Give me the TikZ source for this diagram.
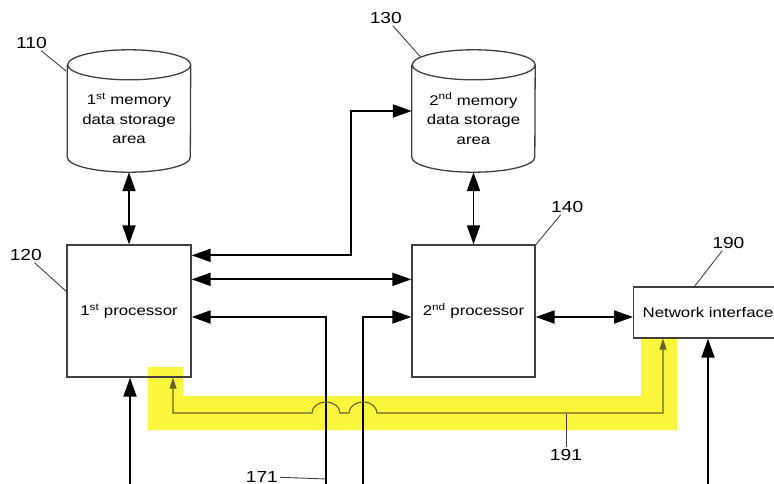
\documentclass[tikz,border=0pt]{standalone}
\usepackage{fontspec}
\newfontfamily\figfont[FakeStretch=1.2]{Liberation Sans}
\usetikzlibrary{arrows.meta,calc}

\definecolor{marker}{RGB}{250,246,60}
\definecolor{markline}{RGB}{100,100,40}

\tikzset{
  box/.style={draw=black!75, line width=1.3pt, minimum width=124pt, minimum height=132pt,
    font=\figfont\fontsize{14}{19.5}\selectfont},
  drum/.style={minimum width=123pt, minimum height=122pt, inner sep=0pt,
    align=center, font=\figfont\fontsize{14}{19.5}\selectfont},
  link/.style={line width=1.8pt, {Triangle[length=19pt,width=13pt]}-{Triangle[length=19pt,width=13pt]}},
  feed/.style={line width=1.8pt, -{Triangle[length=19pt,width=13pt]}},
  bus/.style={markline, line width=1.1pt, {Triangle[length=11pt,width=7pt]}-{Triangle[length=11pt,width=7pt]}},
  num/.style={font=\figfont\fontsize{16}{19}\selectfont, inner sep=2pt},
  every pin/.style={num},
  every pin edge/.style={draw=black!75, line width=0.9pt},
}

% outline of a storage drum round a drum node
\newcommand{\drumoutline}[1]{%
  \draw[draw=black!75, line width=1.3pt] ([yshift=-15pt]#1.north west) -- ([yshift=15pt]#1.south west)
    arc[start angle=180, end angle=360, x radius=61.5pt, y radius=15pt]
    -- ([yshift=-15pt]#1.north east)
    arc[start angle=0, end angle=360, x radius=61.5pt, y radius=15pt];}

\begin{document}
\begin{tikzpicture}[x=1pt,y=-1pt]
  \useasboundingbox (0,0) rectangle (774,484);

  % Highlighted path
  \fill[marker] (148,367) -- (148,430) -- (677,430) -- (677,337) -- (641,337)
    -- (641,396) -- (183,396) -- (183,367) -- cycle;

  % Memories
  \node[drum] (mem1) at (129,111) {};
  \node[drum] (mem1txt) at (129,118.5) {1\textsuperscript{st} memory\\data storage\\area};
  \drumoutline{mem1}
  \node[drum] (mem2) at (473.5,111) {};
  \node[drum] (mem2txt) at (473.5,118.5) {2\textsuperscript{nd} memory\\data storage\\area};
  \drumoutline{mem2}

  % Processors and interface
  \node[box] (proc1) at (129,311) {1\textsuperscript{st} processor};
  \node[box, minimum width=123pt] (proc2) at (473.5,311) {2\textsuperscript{nd} processor};
  \node[box, minimum height=51pt, minimum width=0pt, text width=152pt, align=left,
    inner sep=9pt, anchor=west] (net) at (633,312.5) {Network interface};

  % Free ends at the bottom
  \coordinate (in120) at (130,490);
  \coordinate (in171) at (326,490);
  \coordinate (in172) at (363,490);
  \coordinate (in190) at (708,490);

  % Connectors
  \draw[link] (mem1.south) -- (proc1.north);
  \draw[link] (mem2.south) -- (proc2.north);
  \draw[link] ([yshift=-11pt]proc1.north east) -| ($(mem2.west)+(-61,0)$) -- (mem2.west);
  \draw[link] ([yshift=-35pt]proc1.north east) -- ([yshift=-35pt]proc2.north west);
  \draw[feed] (in171) |- ([yshift=-6pt]proc1.east);
  \draw[feed] (in172) |- ([yshift=-6pt]proc2.west);
  \draw[link] ([yshift=-6pt]proc2.east) -- ([yshift=-6pt]proc2.east -| net.west);
  \draw[feed] (in120) -- (in120 |- proc1.south);
  \draw[feed] (in190) -- (in190 |- net.south);

  % Bus 191 with hops
  \coordinate (tap1) at (173,413);
  \coordinate (tap2) at (663,413);
  \draw[bus] (tap1 |- proc1.south) -- (tap1) -- ($(tap1 -| in171)+(-14,0)$)
    arc[start angle=180, end angle=0, x radius=14pt, y radius=11pt]
    -- ($(tap1 -| in172)+(-14,0)$)
    arc[start angle=180, end angle=0, x radius=14pt, y radius=11pt]
    -- (tap2) -- (tap2 |- net.south);

  % Reference numerals
  \coordinate[pin={[pin distance=26.5pt]129.9:110}] (p110) at (66,71);
  \coordinate[pin={[pin distance=36.1pt]118.1:130}] (p130) at (421,57.5);
  \coordinate[pin={[pin distance=37.2pt]128.1:120}] (p120) at (67,292);
  \coordinate[pin={[pin distance=33.1pt]66:140}] (p140) at (535.5,245);
  \coordinate[pin={[pin distance=39.7pt]66:190}] (p190) at (694,287);
  \coordinate[pin={[pin distance=46pt]177:171}] (p171) at (326,479);
  \coordinate[pin={[pin distance=33.3pt]270:191}] (p191) at (566,414);

\end{tikzpicture}
\end{document}
